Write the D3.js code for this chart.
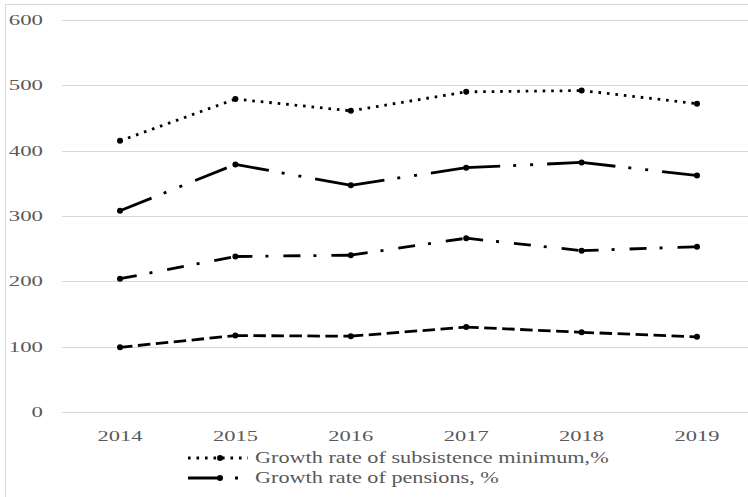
<!DOCTYPE html>
<html>
<head>
<meta charset="utf-8">
<script src="https://cdn.jsdelivr.net/npm/d3@7"></script>
<style>
  html, body { margin: 0; padding: 0; background: #fff; }
  svg { display: block; }
</style>
</head>
<body>
<svg id="chart" width="748" height="497"></svg>
<script>
// Years on the horizontal axis
const years = ["2014", "2015", "2016", "2017", "2018", "2019"];
// Y axis ticks
const yTicks = [0, 100, 200, 300, 400, 500, 600];

// Four series, top to bottom
const subsistence = [415, 479, 461, 490, 492, 472];
const pensions = [308, 379, 347, 374, 382, 362];
const seriesThree = [204, 238, 240, 266, 247, 253];
const seriesFour = [99, 117, 116, 130, 122, 115];

const legendLabels = ["Growth rate of subsistence minimum,%", "Growth rate of pensions, %"];

const svg = d3.select("#chart");
const W = 748, H = 497;

const x = d3.scaleBand().domain(years).range([62.3, 754.7]);
const y = d3.scaleLinear().domain([0, 600]).range([412, 20]);

const grid = "#d9d9d9";
const labelColor = "#595959";
const serif = "'Liberation Serif', 'Times New Roman', serif";

// outer chart frame
svg.append("rect").attr("x", 5.5).attr("y", 4.5).attr("width", W).attr("height", H)
  .attr("fill", "none").attr("stroke", grid).attr("stroke-width", 1);

// horizontal gridlines
svg.append("g").selectAll("line").data(yTicks).join("line")
  .attr("x1", 62).attr("x2", W)
  .attr("y1", d => Math.round(y(d)) + 0.5).attr("y2", d => Math.round(y(d)) + 0.5)
  .attr("stroke", grid).attr("stroke-width", 1);

// stretched serif text helper
function stretched(g, text, px, py, anchor, size, sx) {
  return g.append("text")
    .attr("transform", `translate(${px},${py}) scale(${sx},1)`)
    .attr("text-anchor", anchor)
    .attr("font-family", serif)
    .attr("font-size", size)
    .attr("fill", labelColor)
    .text(text);
}

// y tick labels
const yl = svg.append("g");
yTicks.forEach(t => stretched(yl, String(t), 43, y(t) + 5, "end", 15, 1.52));

// x tick labels
const xl = svg.append("g");
years.forEach(yr => stretched(xl, yr, x(yr) + x.bandwidth() / 2, 441, "middle", 15, 1.5));

const cx = d => x(d) + x.bandwidth() / 2;

const seriesDefs = [
  { values: subsistence, dash: "2.6,5.9", cap: "butt" },
  { values: pensions, dash: "34,13,3,14,3,14", cap: "butt" },
  { values: seriesThree, dash: "17,13,3,15", cap: "butt" },
  { values: seriesFour, dash: "12.5,5.5", cap: "butt" }
];

const line = d3.line().x(d => cx(d.year)).y(d => y(d.v));

seriesDefs.forEach(s => {
  const pts = years.map((yr, i) => ({ year: yr, v: s.values[i] }));
  // draw each segment separately so the dash pattern restarts at each point
  for (let i = 0; i < pts.length - 1; i++) {
    svg.append("path")
      .attr("d", line([pts[i], pts[i + 1]]))
      .attr("fill", "none")
      .attr("stroke", "#000")
      .attr("stroke-width", 2.8)
      .attr("stroke-dasharray", s.dash)
      .attr("stroke-linecap", s.cap);
  }
  svg.append("g").selectAll("circle").data(pts).join("circle")
    .attr("cx", d => cx(d.year)).attr("cy", d => y(d.v)).attr("r", 3)
    .attr("fill", "#000");
});

// legend
const lg = svg.append("g");
const legendRows = [
  { label: legendLabels[0], dash: seriesDefs[0].dash, yy: 458 },
  { label: legendLabels[1], dash: seriesDefs[1].dash, yy: 478 }
];
legendRows.forEach(r => {
  lg.append("line").attr("x1", 188).attr("x2", 248).attr("y1", r.yy).attr("y2", r.yy)
    .attr("stroke", "#000").attr("stroke-width", 2.8).attr("stroke-dasharray", r.dash);
  lg.append("circle").attr("cx", 220).attr("cy", r.yy).attr("r", 3).attr("fill", "#000");
  stretched(lg, r.label, 255, r.yy + 5, "start", 16, 1.39);
});
</script>
</body>
</html>
